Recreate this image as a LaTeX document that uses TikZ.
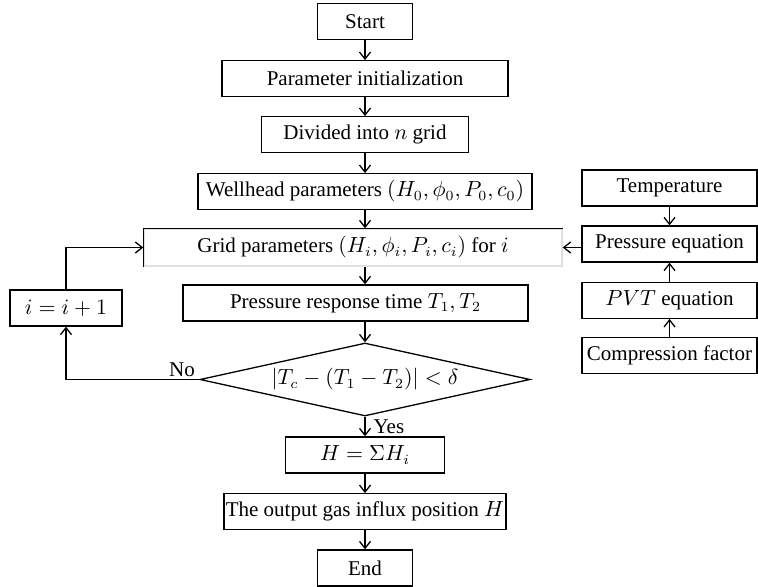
\documentclass[tikz,border=0pt]{standalone}
\usepackage{fontspec}
\setmainfont{Liberation Serif}
\usepackage{tikz}
\usetikzlibrary{positioning,shapes.geometric,arrows.meta}
\tikzset{%
	block/.style={
		draw,
		line width=0.65pt,
		inner sep=0pt,
		minimum height=17.75pt,
		font=\fontsize{10.5}{12}\selectfont
	},
	decision/.style={
		diamond,
		draw,
		aspect=4.5,
		line width=0.65pt,
		inner sep=0pt,
		minimum width=165pt,
		minimum height=36.5pt,
		font=\fontsize{10.5}{12}\selectfont
	},
	side/.style={ block, minimum width=87.5pt },
	flow/.style={ ->, line width=0.65pt },
	tag/.style={ font=\fontsize{10.5}{12}\selectfont },
}

\begin{document}
\begin{tikzpicture}[x=0.5pt, y=-0.5pt, >={Straight Barb[length=3.5pt,width=5.5pt]}]
\clip (0,0) rectangle (758,587);

% main column
\node[block, minimum width=47.5pt] (start) at (365,21.5) {Start};
\node[block, minimum width=143pt] (init) at (365,78.5) {Parameter initialization};
\node[block, minimum width=103.5pt] (divgrid) at (365,134.5) {Divided into $n$ grid};
\node[block, minimum width=167pt] (wellhead) at (365,191.5) {Wellhead parameters $(H_0, \phi_0, P_0, c_0)$};
\node[block, minimum width=209pt, minimum height=18.5pt, draw=black!12] (gridpar) at (353,247.5) {Grid parameters $(H_i, \phi_i, P_i, c_i)$ for $i$};
\node[block, minimum width=172.5pt, minimum height=18pt] (resptime) at (355.5,303) {Pressure response time $T_1, T_2$};
\node[decision] (check) at (365,379.5) {$|T_c - (T_1 - T_2)| < \delta$};
\node[block, minimum width=79.5pt, minimum height=18pt] (sumh) at (365,455) {$H = \Sigma H_i$};
\node[block, minimum width=141pt] (output) at (365,511.5) {The output gas influx position $H$};
\node[block, minimum width=47.5pt, minimum height=18pt] (stop) at (365,568) {End};

% loop box
\node[block, minimum width=56pt, minimum height=18pt] (incr) at (66,308) {$i = i + 1$};

% right column
\node[side, minimum height=18pt] (temp) at (669.5,188) {Temperature};
\node[side, minimum height=18pt] (presseq) at (669.5,244) {Pressure equation};
\node[side] (pvteq) at (669.5,300.5) {$PVT$ equation};
\node[side] (compf) at (669.5,355.5) {Compression factor};

% grid box: faint bottom and right edges
\draw[line width=0.65pt] (gridpar.south west) |- (gridpar.north east);

% main arrows
\draw[flow] (start) -- (init);
\draw[flow] (init) -- (divgrid);
\draw[flow] (divgrid) -- (wellhead);
\draw[flow] (wellhead) -- (wellhead |- gridpar.north);
\draw[flow] (wellhead |- gridpar.south) -- (wellhead |- resptime.north);
\draw[flow] (wellhead |- resptime.south) -- (check.north);
\draw[flow] (check.south) -- node[tag, anchor=west, xshift=3pt, inner sep=1pt] {Yes} (sumh.north);
\draw[flow] (sumh) -- (output);
\draw[flow] (output) -- (stop);

% loop back
\draw[flow] (check.west) -| node[tag, above, pos=0.065, inner sep=1pt] {No} (incr.south);
\draw[flow] (incr.north) |- (gridpar.west);

% right column arrows
\draw[flow] (temp) -- (presseq);
\draw[flow] (pvteq) -- (presseq);
\draw[flow] (compf) -- (pvteq);
\draw[flow] (presseq.west |- gridpar.east) -- (gridpar.east);

\end{tikzpicture}
\end{document}
